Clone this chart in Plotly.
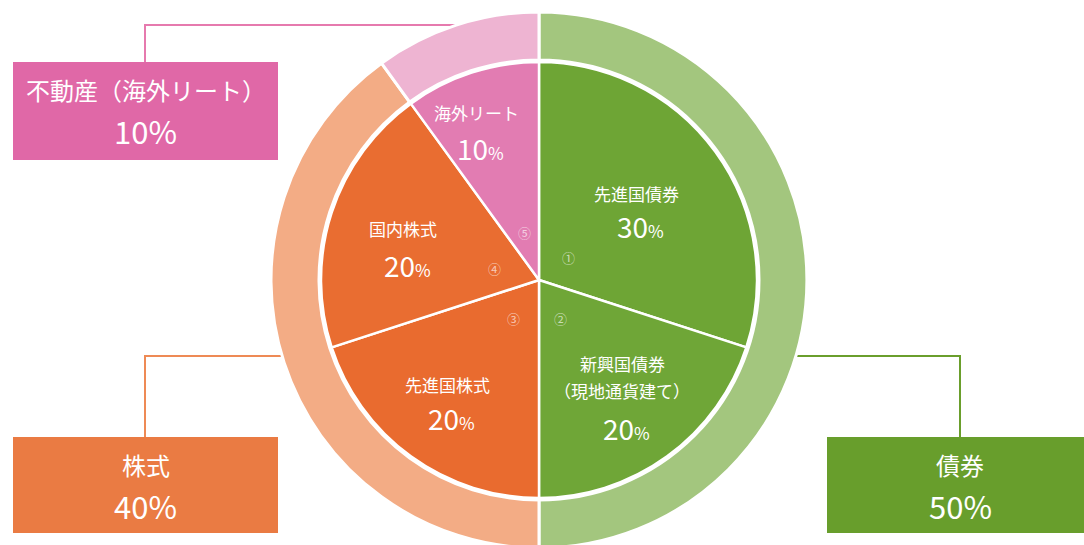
import plotly.graph_objects as go

W, H = 1084, 560  # page is cropped to 545 (overflow hidden); extra height centres the pie at y=280

# Data
inner_labels = ["先進国債券", "新興国債券", "先進国株式", "国内株式", "海外リート"]
inner_values = [30, 20, 20, 20, 10]
inner_text = [["先進国債券"], ["新興国債券", "（現地通貨建て）"], ["先進国株式"], ["国内株式"], ["海外リート"]]
inner_nums = ["①", "②", "③", "④", "⑤"]
outer_labels = ["債券", "株式", "不動産（海外リート）"]
outer_values = [50, 40, 10]

inner_colors = ["#6ea535", "#6fa637", "#e96b2f", "#e96d31", "#e27cb2"]
outer_colors = ["#a3c67e", "#f3ac85", "#eeb4d2"]
box_colors = ["#689e2c", "#ea7b43", "#e068a7"]
line_colors = ["#6a9e2c", "#ee8a55", "#e67aae"]

FONT = "Noto Sans CJK JP"

def px(x):
    return x / W

def py(y):
    return 1 - y / H

cx, cy = 539, 280
R_out, R_in = 268, 218

fig = go.Figure()
fig.add_trace(go.Pie(
    labels=outer_labels, values=outer_values, sort=False, direction="clockwise",
    rotation=0, hole=(R_in + 2) / R_out, textinfo="none", hoverinfo="label+percent",
    marker=dict(colors=outer_colors, line=dict(color="white", width=3)),
    domain=dict(x=[px(cx - R_out), px(cx + R_out)], y=[0, 1]), showlegend=False,
))
fig.add_trace(go.Pie(
    labels=inner_labels, values=inner_values, sort=False, direction="clockwise",
    rotation=0, textinfo="none", hoverinfo="label+percent",
    marker=dict(colors=inner_colors, line=dict(color="white", width=2.5)),
    domain=dict(x=[px(cx - R_in), px(cx + R_in)], y=[py(cy + R_in), py(cy - R_in)]),
    showlegend=False,
))

shapes = []
annotations = []

def txt(x, y, text, size, color="white"):
    annotations.append(dict(x=px(x), y=py(y), xref="paper", yref="paper", text=text,
                            showarrow=False, xanchor="center", yanchor="middle",
                            font=dict(family=FONT, size=size, color=color)))

# Boxes: (x0, y0, x1, y1) in pixels, and connector polylines
boxes = [(827, 437, 1084, 533), (13, 437, 278, 533), (13, 62, 278, 160)]
connectors = [
    [(960, 437), (960, 356), (790, 356)],
    [(145, 437), (145, 356), (300, 356)],
    [(145, 62), (145, 25), (455, 25)],
]
for i, (b, conn) in enumerate(zip(boxes, connectors)):
    path = "M " + " L ".join(f"{px(x)},{py(y)}" for x, y in conn)
    shapes.append(dict(type="path", path=path, xref="paper", yref="paper",
                       line=dict(color=line_colors[i], width=2), layer="below"))
    shapes.append(dict(type="rect", xref="paper", yref="paper",
                       x0=px(b[0]), x1=px(b[2]), y0=py(b[3]), y1=py(b[1]),
                       fillcolor=box_colors[i], line=dict(width=0), layer="below"))
    mx = (b[0] + b[2]) / 2 if i != 0 else 960
    txt(mx, b[1] + 27, outer_labels[i], 24)
    txt(mx, b[1] + 68, f"{outer_values[i]}%", 31)

# Inner labels: x, label line y's, value y
inner_pos = [(636, [193], 226), (622, [363, 390], 428), (447, [384], 418),
             (403, [228], 265), (476, [113], 148)]
for i, (x, lys, vy) in enumerate(inner_pos):
    for line, ly in zip(inner_text[i], lys):
        txt(x, ly, line, 17)
    txt(x + 4, vy, f"{inner_values[i]}<span style='font-size:17px'>%</span>", 28)

num_pos = [(568, 258), (560, 318), (513, 318), (494, 268), (524, 232)]
for n, (x, y) in zip(inner_nums, num_pos):
    txt(x, y, n, 13, "rgba(255,255,255,0.65)")

fig.update_layout(
    width=W, height=H, margin=dict(l=0, r=0, t=0, b=0),
    paper_bgcolor="white", plot_bgcolor="white",
    shapes=shapes, annotations=annotations,
)
fig.write_html("out.html", config={"displayModeBar": False},
               post_script="document.body.style.margin='0px';document.body.style.overflow='hidden';")
